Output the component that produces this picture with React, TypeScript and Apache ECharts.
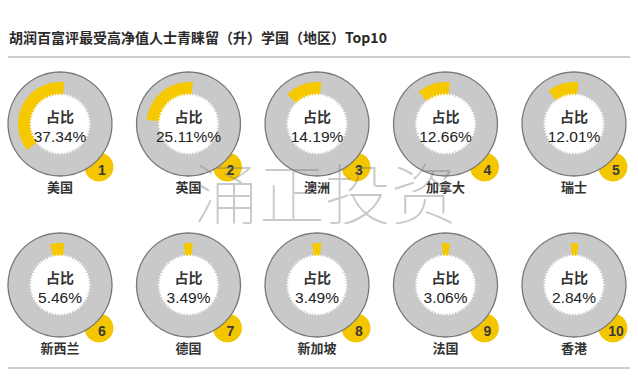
import React, { useEffect, useRef } from "react";
import * as echarts from "echarts";

const titleText = "胡润百富评最受高净值人士青睐留（升）学国（地区）Top10";
const countries = ["美国", "英国", "澳洲", "加拿大", "瑞士", "新西兰", "德国", "新加坡", "法国", "香港"];
const shares = [37.34, 25.11, 14.19, 12.66, 12.01, 5.46, 3.49, 3.49, 3.06, 2.84];
const shareLabels = ["37.34%", "25.11%%", "14.19%", "12.66%", "12.01%", "5.46%", "3.49%", "3.49%", "3.06%", "2.84%"];
const ranks = ["1", "2", "3", "4", "5", "6", "7", "8", "9", "10"];
const innerLabel = "占比";
const watermark = "涌正投资";

const FONT = '"Noto Sans CJK SC", "Noto Sans", sans-serif';
const NUMFONT = '"Liberation Sans", Arial, sans-serif';
const YELLOW = "#f5c800";
const GRAY = "#c9c9c9";

export default function App() {
  const ref = useRef<HTMLDivElement>(null);
  useEffect(() => {
    if (!ref.current) return;
    const chart = echarts.init(ref.current, undefined, { renderer: "svg" });
    const colX = [60, 188.5, 317, 445.5, 574];
    const rowY = [124, 285];
    const series: any[] = [];
    const graphics: any[] = [];

    graphics.push({
      type: "text", x: 9, y: 37, z: 50,
      style: { text: titleText, fill: "#2a2a2a", fontSize: 14, fontWeight: "bold", fontFamily: FONT, textAlign: "left", textVerticalAlign: "middle" },
    });
    graphics.push({ type: "line", z: 50, shape: { x1: 8, y1: 57, x2: 630, y2: 57 }, style: { stroke: "#bdbdbd", lineWidth: 1.5 } });
    graphics.push({ type: "line", z: 50, shape: { x1: 8, y1: 368, x2: 630, y2: 368 }, style: { stroke: "#cfcfcf", lineWidth: 2 } });

    shares.forEach((v, i) => {
      const cx = colX[i % 5];
      const cy = rowY[Math.floor(i / 5)];
      graphics.push({ type: "circle", z: 1, shape: { cx: cx + 39, cy: cy + 43, r: 14.5 }, style: { fill: "#f3c600" } });
      graphics.push({
        type: "text", z: 30, x: cx + 42, y: cy + 46,
        style: { text: ranks[i], fill: "#3a3a3a", fontSize: 14, fontWeight: "bold", fontFamily: NUMFONT, textAlign: "center", textVerticalAlign: "middle" },
      });
      const pts: number[][] = [];
      const teeth = 64;
      for (let k = 0; k < teeth * 2; k++) {
        const a = (k / (teeth * 2)) * Math.PI * 2;
        const r = k % 2 === 0 ? 31 : 28.5;
        pts.push([cx + r * Math.cos(a), cy + r * Math.sin(a)]);
      }
      graphics.push({ type: "polygon", z: 10, shape: { points: pts }, style: { fill: "#ffffff" } });
      graphics.push({
        type: "text", z: 30, x: cx, y: cy - 8,
        style: { text: innerLabel, fill: "#333", fontSize: 14, fontWeight: "bold", fontFamily: FONT, textAlign: "center", textVerticalAlign: "middle" },
      });
      graphics.push({
        type: "text", z: 30, x: cx, y: cy + 12,
        style: { text: shareLabels[i], fill: "#222", fontSize: 15.5, fontFamily: NUMFONT, textAlign: "center", textVerticalAlign: "middle" },
      });
      graphics.push({
        type: "text", z: 30, x: cx, y: cy + 62,
        style: { text: countries[i], fill: "#333", fontSize: 13, fontWeight: "bold", fontFamily: FONT, textAlign: "center", textVerticalAlign: "middle" },
      });

      series.push({
        type: "pie", z: 2, silent: true, center: [cx, cy], radius: [27, 52],
        label: { show: false }, labelLine: { show: false },
        itemStyle: { color: GRAY, borderColor: "#777", borderWidth: 1.3 },
        data: [{ value: 1, name: countries[i] }],
      });
      series.push({
        type: "pie", z: 3, silent: true, center: [cx, cy], radius: [29, 42],
        startAngle: 84, clockwise: false,
        label: { show: false }, labelLine: { show: false },
        data: [
          { value: v, name: countries[i], itemStyle: { color: YELLOW } },
          { value: 100 - v, name: "rest", itemStyle: { color: "transparent" } },
        ],
      });
    });

    graphics.push({
      type: "text", z: 60, x: 325, y: 190,
      style: { text: watermark, fill: "rgba(120,120,120,0.4)", fontSize: 66, fontWeight: 100, fontFamily: FONT, textAlign: "center", textVerticalAlign: "middle" },
    });

    chart.setOption({
      animation: false,
      backgroundColor: "#ffffff",
      series,
      graphic: { elements: graphics },
    });
    return () => chart.dispose();
  }, []);
  return <div ref={ref} style={{ position: "fixed", left: 0, top: 0, width: 638, height: 379 }} />;
}
